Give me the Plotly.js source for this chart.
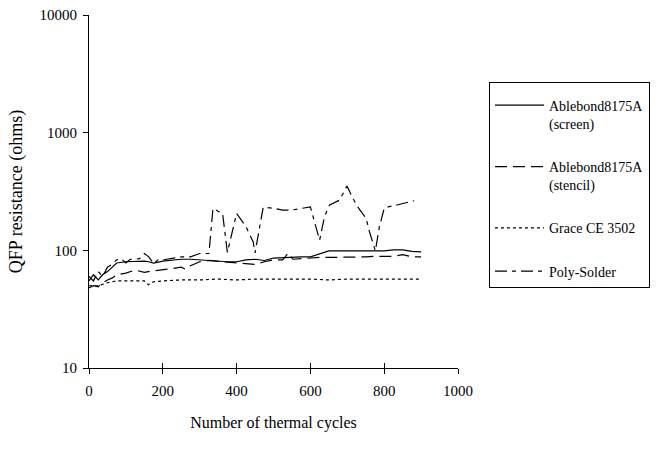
<!DOCTYPE html>
<html>
<head>
<meta charset="utf-8">
<script src="https://cdn.plot.ly/plotly-3.0.1.min.js"></script>
<style>html,body{margin:0;padding:0;background:#fff;}#chart{width:662px;height:449px;}</style>
</head>
<body>
<div id="chart"></div>
<script>
// Ablebond8175A (screen)
const screenCycles = [0,12,25,37,50,62,75,100,125,150,162,175,200,225,250,275,300,325,350,375,400,425,450,475,500,525,550,575,600,625,650,675,700,725,750,775,800,825,850,875,900];
const screenValues = [55,62,56,62,66,72,78,80,81,81,80,78,81,83,84,84,83,81,80,80,80,83,84,82,86,87,88,88,88,94,99,99,99,99,99,98,99,101,101,98,97];
// Ablebond8175A (stencil)
const stencilCycles = [0,12,25,37,50,62,75,100,125,150,175,200,225,250,262,275,300,325,350,375,400,425,450,475,500,525,540,552,575,600,625,650,675,700,725,750,775,800,825,850,875,900];
const stencilValues = [48,50,49,53,56,58,62,64,68,65,67,68,70,72,69,74,80,82,81,80,79,77,76,80,83,83,95,84,85,86,87,87,87,87,88,88,89,89,89,92,88,88];
// Grace CE 3502
const graceCycles = [0,25,50,75,100,125,150,161,175,200,250,300,350,400,450,500,550,600,650,700,750,800,850,900];
const graceValues = [50,50,53,55,55,55,55,51,54,55,56,56,57,56,57,57,57,57,56,57,57,57,57,57];
// Poly-Solder
const polyCycles = [0,12,25,37,50,62,75,87,100,112,125,137,150,162,175,187,200,225,250,275,300,325,336,350,362,375,391,400,425,445,450,463,472,500,525,550,575,600,611,625,638,652,679,699,715,728,751,760,776,787,800,813,835,850,881];
const polyValues = [60,55,66,60,72,76,83,85,78,84,84,85,94,88,77,83,83,86,88,88,94,94,227,215,206,96,159,206,160,118,95,159,232,228,220,220,227,234,175,122,193,243,267,352,277,234,187,144,99,159,227,235,243,250,264];

const names = ['Ablebond8175A<br>(screen)', 'Ablebond8175A<br>(stencil)', 'Grace CE 3502', 'Poly-Solder'];
const xTicks = [0,200,400,600,800,1000];
const yTicks = [10,100,1000,10000];

const font = 'Liberation Serif, Times New Roman, serif';
function tr(x, y, name, dash, grp) {
  return {x: x, y: y, name: name, type: 'scatter', mode: 'lines', legendgroup: grp,
    line: {color: '#000', width: 1.2, dash: dash}};
}
const data = [
  tr(screenCycles, screenValues, names[0], 'solid', 'a'),
  tr(stencilCycles, stencilValues, names[1], '12px,6px', 'b'),
  tr(graceCycles, graceValues, names[2], '3px,3px', 'c'),
  tr(polyCycles, polyValues, names[3], '12px,5px,4px,5px', 'd'),
  {x: [], y: [], xaxis: 'x2', type: 'scatter', mode: 'lines', showlegend: false, hoverinfo: 'skip'}
];
const layout = {
  width: 662, height: 449,
  margin: {l: 89, r: 202, t: 15, b: 81, pad: 0},
  paper_bgcolor: '#fff', plot_bgcolor: '#fff',
  font: {family: font, color: '#000', size: 15},
  showlegend: true,
  xaxis: {range: [0, 1000], tickvals: xTicks, ticktext: xTicks.map(String),
    showgrid: false, zeroline: false, showline: true, linecolor: '#000', linewidth: 1,
    ticks: 'outside', ticklen: 5, tickcolor: '#000', ticklabelstandoff: 4,
    title: {text: 'Number of thermal cycles', font: {size: 16}, standoff: 18}},
  xaxis2: {range: [0, 1000], overlaying: 'x', anchor: 'y', side: 'bottom', tickvals: xTicks,
    showticklabels: false, showgrid: false, zeroline: false, showline: false,
    ticks: 'inside', ticklen: 5, tickcolor: '#000'},
  yaxis: {type: 'log', range: [1, 4], tickvals: yTicks, ticktext: yTicks.map(String),
    showgrid: false, zeroline: false, showline: true, linecolor: '#000', linewidth: 1,
    ticks: 'outside', ticklen: 5, tickcolor: '#000', ticklabelstandoff: 3,
    title: {text: 'QFP resistance (ohms)', font: {size: 18}, standoff: 12}},
  legend: {x: 1.084, y: 0.81, xanchor: 'left', yanchor: 'top',
    bordercolor: '#000', borderwidth: 1, bgcolor: '#fff',
    font: {size: 14, family: font}, valign: 'top',
    itemwidth: 49, entrywidth: 160,
    title: {text: '&nbsp;', font: {size: 5}},
    traceorder: 'grouped', tracegroupgap: 22}
};
Plotly.newPlot('chart', data, layout, {staticPlot: true});
</script>
</body>
</html>
